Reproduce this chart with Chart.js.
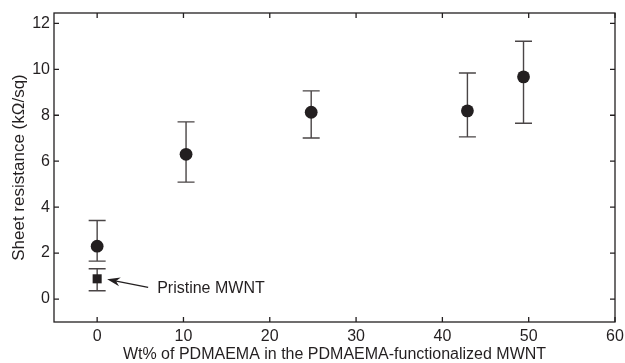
<!DOCTYPE html>
<html><head><meta charset="utf-8">
<script src="https://cdn.jsdelivr.net/npm/chart.js@4"></script>
<style>html,body{margin:0;padding:0;background:#fff;}#wrap{width:625px;height:363px;}</style>
</head><body><div id="wrap"><canvas id="c" width="625" height="363"></canvas></div>
<script>
// Data
const wtPercent   = [0, 10.3, 24.8, 42.9, 49.4];
const resistance  = [2.30, 6.30, 8.13, 8.19, 9.67];
const errHigh     = [3.42, 7.71, 9.06, 9.84, 11.22];
const errLow      = [1.65, 5.09, 7.01, 7.06, 7.65];
const pristineX   = [0];
const pristineY   = [0.88];
const pristineHigh= [1.32];
const pristineLow = [0.36];
const xTicks = [0, 10, 20, 30, 40, 50, 60];
const yTicks = [0, 2, 4, 6, 8, 10, 12];
const annotationText = 'Pristine MWNT';
const xTitle = 'Wt% of PDMAEMA in the PDMAEMA-functionalized MWNT';
const yTitle = 'Sheet resistance (k\u03A9/sq)';

const INK = '#231f20';
const FONT = "'Liberation Sans', Arial, Helvetica, sans-serif";

const mainData = wtPercent.map((x, i) => ({x, y: resistance[i], hi: errHigh[i], lo: errLow[i]}));
const pristineData = pristineX.map((x, i) => ({x, y: pristineY[i], hi: pristineHigh[i], lo: pristineLow[i]}));

const errorBars = {
  id: 'errorBars',
  beforeDatasetsDraw(chart) {
    const {ctx, scales: {x, y}} = chart;
    ctx.save();
    ctx.strokeStyle = '#4a4546';
    ctx.lineWidth = 1.4;
    chart.data.datasets.forEach(ds => {
      ds.data.forEach(p => {
        const px = x.getPixelForValue(p.x);
        const yh = y.getPixelForValue(p.hi);
        const yl = y.getPixelForValue(p.lo);
        ctx.beginPath();
        ctx.moveTo(px, yh); ctx.lineTo(px, yl);
        ctx.moveTo(px - 8.5, yh); ctx.lineTo(px + 8.5, yh);
        ctx.moveTo(px - 8.5, yl); ctx.lineTo(px + 8.5, yl);
        ctx.stroke();
      });
    });
    ctx.restore();
  }
};

const frameTicks = {
  id: 'frameTicks',
  afterDraw(chart) {
    const {ctx, chartArea: a, scales: {x, y}} = chart;
    ctx.save();
    ctx.strokeStyle = INK;
    ctx.lineWidth = 1.3;
    ctx.strokeRect(a.left, a.top, a.right - a.left, a.bottom - a.top);
    const L = 5;
    ctx.beginPath();
    x.ticks.forEach(t => {
      const px = x.getPixelForValue(t.value);
      ctx.moveTo(px, a.bottom); ctx.lineTo(px, a.bottom - L);
      ctx.moveTo(px, a.top); ctx.lineTo(px, a.top + L);
    });
    y.ticks.forEach(t => {
      const py = y.getPixelForValue(t.value);
      ctx.moveTo(a.left, py); ctx.lineTo(a.left + L, py);
      ctx.moveTo(a.right, py); ctx.lineTo(a.right - L, py);
    });
    ctx.stroke();

    // annotation arrow pointing at the pristine point
    const sx = x.getPixelForValue(pristineX[0]);
    const sy = y.getPixelForValue(pristineY[0]);
    const hx = sx + 10, hy = sy + 0.5;
    const tx = sx + 51, ty = sy + 8.5;
    const ang = Math.atan2(hy - ty, hx - tx);
    ctx.strokeStyle = INK;
    ctx.lineWidth = 1.3;
    ctx.beginPath();
    ctx.moveTo(tx, ty); ctx.lineTo(hx + 8 * Math.cos(ang + Math.PI), hy + 8 * Math.sin(ang + Math.PI));
    ctx.stroke();
    ctx.fillStyle = INK;
    const len = 13, wid = 4.5;
    const bx = hx - len * Math.cos(ang), by = hy - len * Math.sin(ang);
    const nx = -Math.sin(ang), ny = Math.cos(ang);
    const mx = hx - 9 * Math.cos(ang), my = hy - 9 * Math.sin(ang);
    ctx.beginPath();
    ctx.moveTo(hx, hy);
    ctx.lineTo(bx + nx * wid, by + ny * wid);
    ctx.lineTo(mx, my);
    ctx.lineTo(bx - nx * wid, by - ny * wid);
    ctx.closePath();
    ctx.fill();

    ctx.font = '16px ' + FONT;
    ctx.textAlign = 'left';
    ctx.textBaseline = 'alphabetic';
    ctx.fillText(annotationText, sx + 60, sy + 13.8);
    ctx.restore();
  }
};

new Chart(document.getElementById('c'), {
  type: 'scatter',
  data: {
    datasets: [
      {label: 'Functionalized', data: mainData, pointStyle: 'circle', pointRadius: 6.4, pointHoverRadius: 6.4,
       backgroundColor: INK, borderColor: INK, borderWidth: 0},
      {label: 'Pristine', data: pristineData, pointStyle: 'rect', pointRadius: 6.4, pointHoverRadius: 6.4,
       backgroundColor: INK, borderColor: INK, borderWidth: 0}
    ]
  },
  options: {
    responsive: false,
    animation: false,
    events: [],
    layout: {padding: {top: 13, right: 10, left: 0, bottom: 0}},
    plugins: {legend: {display: false}, tooltip: {enabled: false}},
    scales: {
      x: {
        type: 'linear', min: -5, max: 60,
        afterBuildTicks: s => { s.ticks = xTicks.map(v => ({value: v})); },
        afterFit: s => { s.height = 41; s.paddingLeft = 0; s.paddingRight = 0; },
        grid: {display: false, drawTicks: false},
        border: {display: false},
        ticks: {color: INK, font: {family: FONT, size: 16}, padding: 5, maxRotation: 0},
        title: {display: true, text: xTitle, color: INK, font: {family: FONT, size: 16, lineHeight: 1.1}, padding: {top: 0, bottom: 0}}
      },
      y: {
        type: 'linear', min: -1, max: 12.45,
        afterBuildTicks: s => { s.ticks = yTicks.map(v => ({value: v})); },
        afterFit: s => { s.width = 54; s.paddingTop = 0; s.paddingBottom = 0; },
        grid: {display: false, drawTicks: false},
        border: {display: false},
        ticks: {color: INK, font: {family: FONT, size: 16}, padding: 4},
        title: {display: true, text: yTitle, color: INK, font: {family: FONT, size: 17, lineHeight: 1.2}, padding: {top: 9, bottom: 0}}
      }
    }
  },
  plugins: [errorBars, frameTicks]
});
</script>
</body></html>
